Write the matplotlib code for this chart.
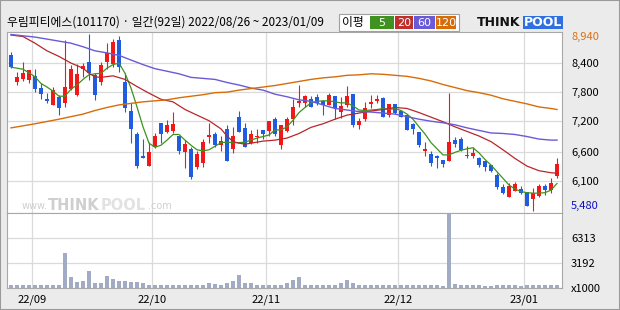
import matplotlib
matplotlib.use("Agg")
from matplotlib import pyplot as plt
from matplotlib.patches import Rectangle
from matplotlib.transforms import blended_transform_factory

plt.rcParams['font.family'] = ['Noto Sans CJK KR', 'DejaVu Sans']

# daily candles, 2022/08/26 ~ 2023/01/09 (92 trading days)
opens = [8530, 8000, 8060, 8040, 8120, 7880, 7670, 7550, 7710, 7590,
         7870, 7740, 8260, 8390, 8140, 8000, 8390, 8350, 8820, 7990,
         7440, 6980, 6540, 6350, 6720, 7190, 7020, 7040, 6950, 6630,
         6680, 6340, 6420, 6930, 6980, 6770, 7070, 6690, 7310, 7100,
         6810, 6920, 7060, 7030, 7280, 6760, 7040, 7280, 7590, 7590,
         7660, 7700, 7630, 7550, 7720, 7410, 7550, 7760, 7160, 7270,
         7570, 7620, 7690, 7360, 7570, 7440, 7360, 7180, 7020, 6650,
         6590, 6540, 6470, 6460, 6860, 6890, 6550, 6550, 6500, 6460,
         6370, 6170, 5950, 5750, 5870, 5910, 5840, 5710, 5770, 5970,
         5880, 6160]
highs = [8590, 8200, 8390, 8230, 8250, 7970, 7780, 7900, 7740, 8820,
         8340, 8350, 8370, 8940, 8170, 8400, 8770, 8840, 8900, 8170,
         7580, 7010, 6880, 6820, 6990, 7200, 7250, 7410, 6950, 6860,
         6730, 6650, 6880, 7190, 7020, 6940, 7150, 7120, 7440, 7190,
         7060, 7070, 7060, 7240, 7310, 7150, 7310, 7660, 7950, 7750,
         7720, 7760, 7650, 7790, 7720, 7710, 7920, 7760, 7290, 7610,
         7740, 7740, 7710, 7570, 7570, 7450, 7360, 7200, 7020, 6820,
         6640, 6570, 6470, 7780, 6920, 6920, 6750, 6720, 6520, 6460,
         6380, 6210, 6000, 6010, 6040, 5960, 5840, 5920, 5990, 5990,
         6120, 6510]
lows = [8270, 7940, 8020, 7970, 7810, 7660, 7580, 7540, 7350, 7500,
        7840, 7720, 8090, 8040, 7650, 7940, 8250, 8300, 8200, 7420,
        6800, 6310, 6500, 6350, 6700, 6800, 6990, 6990, 6590, 6310,
        6100, 6290, 6340, 6800, 6720, 6650, 6460, 6610, 7010, 6720,
        6780, 6800, 6890, 6940, 6940, 6690, 7020, 7160, 7500, 7510,
        7500, 7540, 7360, 7540, 7280, 7290, 7500, 7120, 7080, 7240,
        7480, 7580, 7310, 7310, 7370, 7310, 7060, 6970, 6730, 6550,
        6350, 6310, 6330, 6460, 6720, 6650, 6510, 6500, 6340, 6250,
        6240, 5910, 5800, 5750, 5860, 5800, 5560, 5480, 5750, 5780,
        5820, 6120]
closes = [8290, 8090, 8180, 8230, 7870, 7760, 7630, 7840, 7480, 7900,
          8250, 8160, 8310, 8170, 7750, 8330, 8560, 8780, 8290, 7480,
          7080, 6350, 6500, 6630, 6950, 6970, 7150, 7180, 6650, 6780,
          6130, 6590, 6820, 6950, 6760, 6840, 6460, 6950, 7010, 6720,
          6980, 6950, 6980, 7240, 6980, 7150, 7270, 7500, 7620, 7720,
          7510, 7590, 7550, 7740, 7480, 7530, 7720, 7150, 7240, 7480,
          7610, 7670, 7320, 7570, 7400, 7320, 7060, 7080, 6760, 6680,
          6420, 6510, 6390, 6820, 6780, 6670, 6570, 6610, 6370, 6330,
          6250, 5940, 5830, 5970, 6000, 5820, 5560, 5820, 5960, 5880,
          6010, 6390]
# volume, x1000 shares
volumes = [420, 340, 340, 340, 420, 340, 340, 340, 420, 4450,
           1420, 720, 920, 2180, 670, 670, 1510, 1170, 920, 840,
           760, 760, 590, 420, 340, 420, 420, 340, 340, 420,
           420, 340, 340, 670, 500, 340, 670, 840, 1680, 590,
           590, 420, 340, 420, 420, 420, 590, 1010, 1420, 420,
           340, 340, 420, 420, 420, 590, 1010, 670, 340, 420,
           420, 340, 340, 340, 340, 340, 340, 340, 340, 340,
           340, 340, 250, 9240, 500, 420, 340, 340, 340, 250,
           250, 340, 340, 340, 340, 250, 340, 420, 340, 340,
           340, 420]

# moving averages
ma5 = [8290, 8270, 8250, 8180, 8100, 7970, 7900, 7820, 7720, 7720,
       7860, 7940, 8050, 8140, 8160, 8170, 8270, 8340, 8370, 8170,
       7880, 7510, 7120, 6800, 6720, 6760, 6860, 6970, 6970, 6860,
       6760, 6670, 6650, 6670, 6740, 6810, 6820, 6810, 6810, 6820,
       6860, 6900, 6930, 6960, 7060, 7060, 7120, 7250, 7400, 7500,
       7590, 7620, 7630, 7630, 7610, 7590, 7590, 7530, 7450, 7440,
       7450, 7460, 7480, 7460, 7480, 7440, 7370, 7270, 7120, 6980,
       6810, 6690, 6570, 6570, 6620, 6660, 6690, 6710, 6610, 6480,
       6370, 6240, 6110, 5980, 5900, 5850, 5830, 5820, 5820, 5830,
       5880, 6010]
ma20_idx = [0, 2, 4, 6, 8, 10, 12, 13, 14, 15, 17, 19, 21, 23, 25, 27, 29,
            31, 33, 35, 36, 37, 38, 39, 40, 42, 44, 46, 48, 50, 52, 54, 56,
            58, 60, 62, 64, 66, 68, 70, 72, 74, 76, 78, 80, 82, 84, 86, 88,
            90, 91]
ma20 = [8920, 8890, 8760, 8610, 8500, 8370, 8270, 8170, 8100, 8090, 8120,
        8050, 7910, 7780, 7660, 7610, 7460, 7350, 7240, 7080, 6940, 6830,
        6800, 6780, 6800, 6840, 6860, 6900, 6990, 7110, 7180, 7270, 7350,
        7390, 7430, 7460, 7500, 7480, 7400, 7310, 7220, 7120, 7030, 6940,
        6830, 6670, 6500, 6350, 6260, 6220, 6210]
ma60_idx = [0, 4, 8, 10, 12, 14, 16, 18, 20, 22, 24, 26, 28, 30, 32, 34,
            36, 38, 40, 42, 44, 46, 48, 50, 52, 54, 56, 58, 60, 62, 64, 66,
            68, 70, 72, 74, 76, 78, 80, 82, 84, 86, 88, 90, 91]
ma60 = [8930, 8880, 8800, 8760, 8690, 8610, 8570, 8520, 8430, 8340, 8260,
        8210, 8160, 8090, 8070, 8050, 7990, 7940, 7880, 7840, 7760, 7710,
        7650, 7620, 7550, 7480, 7450, 7420, 7410, 7390, 7370, 7320, 7270,
        7230, 7200, 7160, 7100, 7050, 7000, 6990, 6970, 6930, 6880, 6860,
        6860]
ma120_idx = ma60_idx
ma120 = [7100, 7180, 7270, 7320, 7370, 7440, 7500, 7550, 7580, 7610, 7630,
         7650, 7690, 7720, 7750, 7790, 7800, 7840, 7870, 7900, 7930, 7970,
         8010, 8050, 8080, 8100, 8130, 8140, 8160, 8150, 8130, 8110, 8070,
         8020, 7950, 7890, 7830, 7790, 7740, 7670, 7620, 7570, 7510, 7480,
         7460]

month_start = [4, 24, 43, 65, 86]
month_labels = ['22/09', '22/10', '22/11', '22/12', '23/01']
price_ticks = [8366, 7803, 7241, 6633, 6065]
price_labels = ['8,400', '7,800', '7,200', '6,600', '6,100']
vol_ticks = [0, 3192, 6313]
vol_labels = ['x1000', '3192', '6313']

UP = '#f01818'
DOWN = '#1f5ce0'
GRID = '#dadada'
FRAME = '#a8a8a8'

W, H = 620, 310
fig = plt.figure(figsize=(6.2, 3.1), dpi=100, facecolor='#ebebeb')


def fx(px):
    return px / W


def fy(py):
    return 1 - py / H


ax = fig.add_axes([fx(7), fy(212.5), 555 / W, 181 / H])
axv = fig.add_axes([fx(7), fy(288), 555 / W, 75.5 / H], sharex=ax)

n = len(closes)
xs = list(range(n))
grid_x = [i - 0.5 for i in month_start]

for a in (ax, axv):
    a.set_facecolor('white')
    for s in a.spines.values():
        s.set_color(FRAME)
        s.set_linewidth(0.8)
    a.set_xticks(grid_x)
    a.grid(True, color=GRID, linewidth=0.9)
    a.set_axisbelow(True)
    a.yaxis.tick_right()
    a.tick_params(length=0, labelsize=8, colors='black')
ax.set_xlim(-0.667, 91.83)
ax.tick_params(axis='y', pad=6.5)
ax.tick_params(axis='x', labelbottom=False)
axv.tick_params(axis='y', pad=6.5)
axv.tick_params(axis='x', pad=5)
axv.set_xticklabels(month_labels)

# candles
for i in xs:
    o, h, l, c = opens[i], highs[i], lows[i], closes[i]
    col = UP if c >= o else DOWN
    ax.vlines(i, l, h, color=col, linewidth=0.8, zorder=3)
    body = max(abs(c - o), 25)
    ax.bar(i, body, bottom=min(o, c), width=0.68, color=col,
           linewidth=0, zorder=4)

ax.plot(xs, ma5, color='#3f9220', linewidth=0.9, zorder=5)
ax.plot(ma20_idx, ma20, color='#b8262a', linewidth=0.9, zorder=5)
ax.plot(ma60_idx, ma60, color='#6a5ad8', linewidth=1.0, zorder=5)
ax.plot(ma120_idx, ma120, color='#d86c08', linewidth=1.0, zorder=5)

ax.set_ylim(5441, 8989)
ax.set_yticks(price_ticks)
ax.set_yticklabels(price_labels)

top = max(highs)
bot = min(lows)
tr = blended_transform_factory(ax.transAxes, ax.transData)
ax.annotate(f'{top:,}', xy=(1, top), xycoords=tr, xytext=(6.5, -2.2),
            textcoords='offset points', va='center', ha='left',
            fontsize=8, color='#e07010', annotation_clip=False)
ax.annotate(f'{bot:,}', xy=(1, bot), xycoords=tr, xytext=(6.5, 3.2),
            textcoords='offset points', va='center', ha='left',
            fontsize=8, color='#1010c8', annotation_clip=False)

# watermark
wm = '#cfcfcf'
fig.text(fx(22), fy(209), 'www.', fontsize=7, color=wm, family='DejaVu Sans')
fig.text(fx(48), fy(209.5), 'THINK', fontsize=10.5, color=wm,
         fontweight='bold', family='DejaVu Sans')
fig.text(fx(101), fy(209.5), 'POOL', fontsize=10.5, color='#e2e2e2',
         fontweight='bold', family='DejaVu Sans')
fig.text(fx(148), fy(209), '.com', fontsize=7, color=wm, family='DejaVu Sans')

# volume
axv.bar(xs, volumes, width=0.82, color='#a2abc4', linewidth=0)
axv.set_ylim(0, 9470)
axv.set_yticks(vol_ticks)
axv.set_yticklabels(vol_labels)

# header
fig.text(fx(7), fy(22), '우림피티에스(101170) · 일간(92일) 2022/08/26 ~ 2023/01/09',
         fontsize=8.5, va='center', ha='left')
fig.patches.append(Rectangle((fx(339), fy(31)), 120 / W, 17 / H,
                             transform=fig.transFigure, facecolor='white',
                             edgecolor='#a0a0a0', linewidth=0.8))
fig.text(fx(353), fy(22.5), '이평', fontsize=8.5, va='center', ha='center')
ma_boxes = [('5', '#3f9220', 370, 24), ('20', '#c0302a', 395, 18),
            ('60', '#6a5ad8', 414, 21), ('120', '#d86c08', 436, 20)]
for lab, col, x0, w in ma_boxes:
    fig.patches.append(Rectangle((fx(x0), fy(29)), w / W, 13 / H,
                                 transform=fig.transFigure, facecolor=col,
                                 linewidth=0))
    fig.text(fx(x0 + w / 2), fy(22.5), lab, fontsize=8, color='white',
             va='center', ha='center', family='DejaVu Sans')

fig.text(fx(477), fy(22.5), 'THINK', fontsize=9, fontweight='bold',
         va='center', ha='left', family='DejaVu Sans', color='#111111')
fig.patches.append(Rectangle((fx(523), fy(29)), 40 / W, 13 / H,
                             transform=fig.transFigure, facecolor='#2f6fe0',
                             linewidth=0))
fig.text(fx(543), fy(22.5), 'POOL', fontsize=9, fontweight='bold',
         va='center', ha='center', family='DejaVu Sans', color='white')

fig.patches.append(Rectangle((0, 0), 1, 1, transform=fig.transFigure,
                             fill=False, edgecolor='#9a9a9a', linewidth=1.5))

fig.savefig('out.png', dpi=100, facecolor=fig.get_facecolor())
